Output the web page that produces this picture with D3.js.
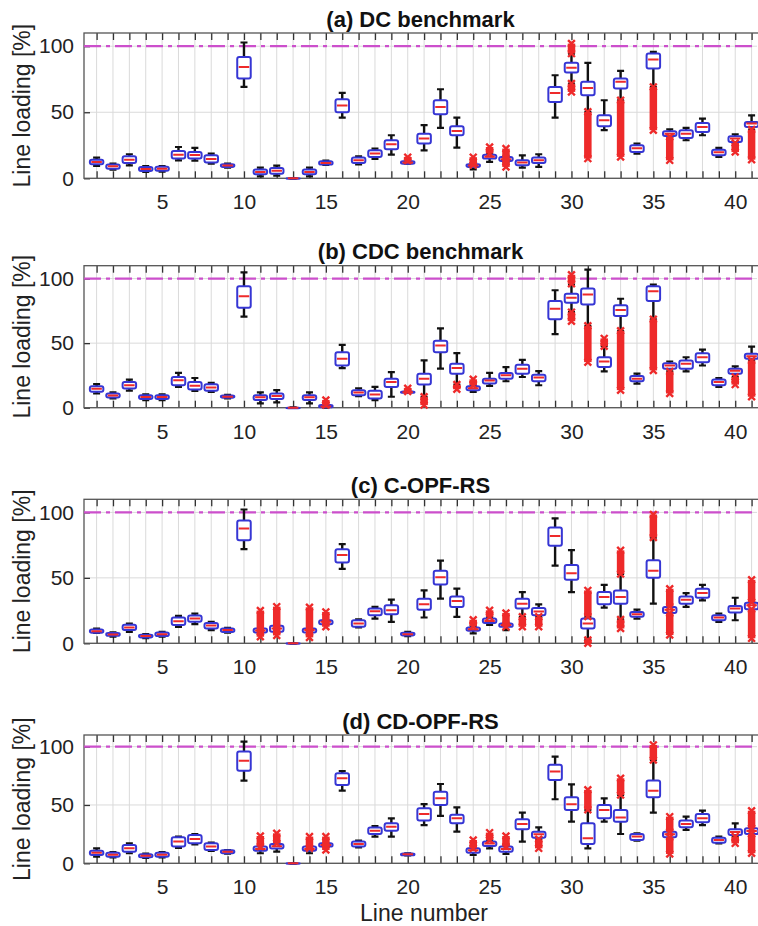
<!DOCTYPE html>
<html><head><meta charset="utf-8">
<script src="https://cdn.jsdelivr.net/npm/d3@7/dist/d3.min.js"></script>
<style>body{margin:0;background:#fff}svg{display:block;font-family:"Liberation Sans",Arial,Helvetica,sans-serif}</style>
</head><body><svg id="c" width="758" height="926"></svg>
<script>
// line numbers
const lines = d3.range(1, 42);
const xTickLabels = [5, 10, 15, 20, 25, 30, 35, 40];
const yTicks = [0, 50, 100];
const limit = 100;
const titles = ["(a) DC benchmark", "(b) CDC benchmark", "(c) C-OPF-RS", "(d) CD-OPF-RS"];

// rows: [whiskerLow, q1, median, q3, whiskerHigh] for lines 1..41
const dcStats = [
[9.3,10.6,12.4,14.1,15.7],[6.6,7.3,9.1,10.4,11.1],[9.8,11.6,14.1,16.7,18.2],[4.8,5.6,7.1,8.6,9.3],[5.0,5.8,7.3,8.8,9.3],
[13.6,14.9,17.9,20.7,23.7],[13.4,14.9,17.7,19.9,23.0],[11.1,11.9,14.6,17.4,18.7],[8.1,8.6,9.6,10.6,11.1],[69.2,75.5,84.3,91.9,102.8],
[1.5,3.0,4.8,6.6,8.1],[2.0,3.5,5.8,7.8,9.6],[0,0,0,0,0],[1.5,3.0,4.8,6.6,8.1],[10.1,10.4,11.6,12.9,13.4],
[46.0,50.0,55.1,59.8,64.6],[10.6,11.6,13.6,15.7,16.7],[14.6,16.2,18.7,21.2,22.5],[17.9,22.0,25.8,28.8,32.6],[11.1,11.1,12.0,12.9,12.9],
[21.2,26.3,30.1,33.8,40.2],[38.1,48.5,54.0,59.1,67.4],[23.2,32.6,35.9,39.4,46.0],[6.8,8.6,9.6,10.6,11.1],[12.4,14.9,16.4,17.9,18.7],
[12.0,13.1,14.4,16.2,17.0],[8.1,9.8,11.9,13.6,17.4],[8.6,11.6,13.6,15.7,18.2],[46.0,57.8,64.6,69.2,78.0],[71.7,80.1,83.6,87.4,94.4],
[50.3,62.9,68.4,73.0,87.4],[36.4,39.4,43.9,47.7,59.1],[59.1,67.9,73.0,75.5,81.3],[18.7,19.9,22.7,25.0,26.3],[69.2,83.1,89.9,94.4,95.7],
[31.3,32.1,33.8,35.6,37.1],[28.8,30.6,33.8,36.4,38.1],[32.6,35.1,38.9,41.9,45.2],[16.2,17.4,19.7,21.7,23.0],[26.8,27.5,30.1,31.8,33.3],
[36.9,38.9,41.4,42.7,47.7]];
// outlier clusters: [line, low, high]
const dcOutliers = [[20,13.5,16],[24,10,16],[25,18.7,23.7],[26,8.6,22.5],[30,94.4,102],[30,65.4,71.7],[31,14.9,50.3],
[33,16.2,59.1],[35,36.4,69.2],[36,13.6,31.3],[40,19.9,26.8],[41,14.1,36.9]];

const cdcStats = [
[11.0,12.3,14.6,16.6,18.2],[7.2,7.9,9.5,11.0,11.8],[13.3,14.9,17.4,20.0,21.8],[5.9,6.7,8.2,9.7,10.4],[5.9,6.7,8.2,9.7,10.4],
[16.1,17.4,21.2,23.8,26.9],[13.1,14.1,17.1,20.0,23.0],[12.3,13.1,15.6,18.2,19.2],[7.2,7.7,8.5,9.5,10.0],[70.6,77.5,86.4,94.1,104.8],
[3.4,5.9,8.0,9.7,11.8],[4.1,6.7,9.0,11.0,13.6],[0,0,0,0,0],[3.4,5.9,8.0,9.7,11.8],[0,0.3,1,2,2],
[30.7,32.7,37.9,42.9,48.6],[9.0,9.7,11.8,13.6,14.9],[5.9,7.2,10.3,13.1,16.1],[8.5,16.1,20.0,22.5,27.6],[11.5,11.5,12.0,12.5,12.5],
[8.5,17.9,22.5,26.3,36.6],[30.2,42.9,48.1,51.9,61.4],[17.9,26.3,30.7,34.0,42.2],[12.3,13.6,15.1,16.6,17.4],[16.9,18.7,21.0,22.5,26.9],
[20.5,22.5,25.1,26.9,31.5],[23.8,26.3,30.2,33.2,37.1],[17.4,20.5,23.3,25.6,28.4],[57.0,68.5,76.7,82.6,91.0],[74.1,81.3,85.1,88.2,95.4],
[63.4,80.0,87.7,92.3,106.9],[28.1,31.5,35.8,39.1,47.6],[59.6,71.1,75.7,79.3,84.4],[18.7,20.5,22.5,24.6,26.4],[68.5,82.6,90.2,94.1,95.4],
[28.1,30.2,32.7,34.5,35.8],[28.1,30.2,34.0,36.6,39.1],[32.7,35.3,39.1,42.2,45.0],[16.1,17.4,20.0,21.8,23.0],[23.8,26.3,28.7,30.2,32.0],
[36.6,37.9,39.9,41.7,47.3]];
const cdcOutliers = [[15,2,6],[20,12.5,15],[21,2,8.5],[23,14.3,17.9],[24,17.4,22],[30,96,103],[30,67,74],[31,35.3,63.4],
[32,47.6,53.7],[33,13.6,59.6],[35,28.9,68.5],[36,11.0,28.1],[40,17.9,23.8],[41,8.5,36.6]];

const copfStats = [
[8.0,8.1,9.3,10.6,11.3],[5.0,5.8,6.8,7.8,8.3],[8.8,10.1,12.1,14.1,15.1],[4.0,4.5,5.5,6.5,7.0],[5.0,5.5,7.0,8.3,8.8],
[12.6,13.9,16.9,19.7,20.9],[14.6,16.4,18.9,21.2,22.7],[10.1,11.3,13.6,15.6,16.4],[8.1,8.6,10.1,11.3,11.8],[72.0,78.8,87.6,93.9,102.2],
[8.3,8.3,9.8,11.3,11.3],[8.8,8.8,11.3,13.4,13.4],[0,0,0,0,0],[8.3,8.3,10.1,11.3,11.3],[14.6,14.6,16.4,17.6,17.6],
[56.8,61.8,67.4,71.9,75.7],[12.1,12.6,15.1,17.6,18.2],[18.9,21.4,24.5,26.5,27.8],[16.4,22.2,25.2,29.0,33.3],[5.5,6.0,7.0,8.1,8.8],
[19.7,25.7,29.8,34.1,40.4],[34.1,44.9,50.5,55.5,63.1],[20.2,27.8,32.3,35.8,41.7],[7.6,9.6,10.8,12.1,13.1],[14.0,15.6,17.1,18.9,20.2],
[10.1,12.6,13.9,15.1,15.8],[20.2,26.5,30.3,34.1,39.1],[20.2,21.4,24.2,27.0,29.8],[59.3,74.5,82.0,88.4,95.4],[39.1,48.5,53.5,59.8,71.1],
[3.0,11.3,15.1,18.9,20.2],[27.3,29.8,35.3,39.1,44.6],[18.2,30.3,35.3,40.4,53.0],[18.9,20.2,22.2,24.0,25.7],[30.3,50.0,55.5,63.4,80.8],
[23.2,23.2,25.7,27.8,27.8],[27.8,30.3,33.3,35.8,38.4],[32.8,34.8,38.4,41.7,44.7],[16.4,17.6,19.7,21.4,22.7],[17.6,23.5,26.5,28.5,34.8],
[26.0,26.0,29.0,31.0,31.5]];
const copfOutliers = [[11,5,25],[12,6,28],[14,4.5,27.5],[15,12.6,24],[24,13,18],[25,20.2,25.2],[26,12.6,23.2],[27,12.6,20.2],
[28,12.6,20.2],[31,20.5,40.4],[31,0,2.5],[33,53,71],[33,11.3,18.2],[35,80.8,98.4],[36,28,41.7],[36,6.3,23],[41,31.5,48.5],[41,3.8,26]];

const cdopfStats = [
[5.7,7.1,9.1,10.8,12.8],[5.1,5.7,7.4,9.1,9.7],[8.6,10.0,12.8,15.7,17.1],[4.6,5.1,6.5,7.7,8.3],[5.1,5.7,7.4,9.1,9.7],
[13.1,14.3,18.6,22.3,22.9],[16.3,17.1,20.8,24.3,25.1],[10.6,11.4,14.3,17.1,17.7],[8.3,8.6,10.0,11.1,11.4],[70.8,79.4,88.0,95.8,104.4],
[8.6,10.8,12.3,14.3,14.8],[10.0,12.6,14.6,16.6,17.7],[0,0,0,0,0],[8.6,10.8,12.3,14.3,14.8],[14.3,14.3,15.7,17.1,17.1],
[62.3,67.1,72.9,77.2,79.1],[13.7,14.3,16.6,18.6,19.4],[22.9,25.1,28.0,30.8,32.0],[22.9,28.0,31.4,34.3,38.6],[6.8,6.8,7.7,8.5,8.5],
[32.8,36.6,42.3,47.1,50.8],[40.6,50.0,55.7,61.4,68.0],[27.1,34.3,38.6,41.7,47.9],[7.1,9.1,11.1,12.8,13.7],[12.8,14.8,16.9,18.6,20.0],
[8.0,10.0,12.3,14.3,15.7],[18.6,29.1,33.7,37.7,43.4],[20.6,22.0,24.9,27.1,30.8],[54.9,71.5,78.6,84.4,91.5],[35.7,45.7,50.6,56.6,67.7],
[12.8,16.6,21.4,34.3,45.7],[35.7,38.6,45.7,50.0,55.7],[25.1,35.7,39.2,45.7,58.6],[19.4,20.0,22.9,25.1,25.7],[43.4,56.6,62.3,70.9,88.6],
[22.3,22.3,24.9,27.1,27.1],[28.6,30.9,33.7,36.6,40.0],[32.8,35.2,38.6,42.3,45.1],[17.1,17.7,20.0,22.0,22.9],[22.9,24.3,26.9,29.1,34.3],
[25.1,25.1,27.7,30.0,30.0]];
const cdopfOutliers = [[11,14.3,23.4],[12,17.1,25.7],[14,13,22.9],[15,11.4,22.9],[24,12.8,20],[25,20,26.3],[26,14.3,23.4],
[28,12.8,20.6],[31,46,63],[33,58.6,72.9],[35,88.6,101.5],[36,27.1,40],[36,8,22.3],[40,17.1,22.9],[41,30,45.1],[41,8.6,25.1]];

const statsAll = [dcStats, cdcStats, copfStats, cdopfStats];
const outAll = [dcOutliers, cdcOutliers, copfOutliers, cdopfOutliers];

// layout
const L = 84, R = 757;
const frames = [[33, 178.3], [265.7, 407.7], [499.3, 643.3], [735, 863.3]];
const BOXW = 13.5, CAPW = 7, OUTW = 7.5;
const BLUE = "#3636d4", RED = "#ee2a2a", MAG = "#cc4fcc";

const svg = d3.select("#c");
const x = d3.scaleLinear().domain([0.23, 41.33]).range([L, R]);

statsAll.forEach((stats, pi) => {
  const [top, bot] = frames[pi];
  const y = d3.scaleLinear().domain([0, 110]).range([bot, top]);
  const g = svg.append("g");
  const defsId = "clip" + pi;
  svg.append("clipPath").attr("id", defsId).append("rect")
    .attr("x", L).attr("y", top - 6).attr("width", R - L + 4).attr("height", bot - top + 12);

  // grid
  g.append("g").selectAll("line").data(lines).join("line")
    .attr("x1", d => x(d)).attr("x2", d => x(d)).attr("y1", top).attr("y2", bot)
    .attr("stroke", "#dadada").attr("stroke-width", 1);
  g.append("g").selectAll("line").data(yTicks).join("line")
    .attr("x1", L).attr("x2", R).attr("y1", d => y(d)).attr("y2", d => y(d))
    .attr("stroke", "#dadada").attr("stroke-width", 1);

  // axes
  const ax = g.append("g").attr("transform", `translate(0,${bot})`)
    .call(d3.axisBottom(x).tickValues(lines).tickSize(-7).tickPadding(16)
      .tickFormat(d => xTickLabels.includes(d) ? d : ""));
  const at = g.append("g").attr("transform", `translate(0,${top})`)
    .call(d3.axisTop(x).tickValues(lines).tickSize(-7).tickFormat(""));
  const ay = g.append("g").attr("transform", `translate(${L},0)`)
    .call(d3.axisLeft(y).tickValues(yTicks).tickSize(-6).tickPadding(10));
  [ax, at, ay].forEach(a => {
    a.select(".domain").remove();
    a.selectAll(".tick line").attr("stroke", "#333").attr("stroke-width", 1.3);
    a.selectAll("text").attr("fill", "#222").attr("font-size", 21);
  });
  g.append("rect").attr("x", L).attr("y", top).attr("width", R - L + 6).attr("height", bot - top)
    .attr("fill", "none").attr("stroke", "#555").attr("stroke-width", 1.3);

  // limit line
  g.append("line").attr("x1", L).attr("x2", R).attr("y1", y(limit)).attr("y2", y(limit))
    .attr("stroke", MAG).attr("stroke-width", 2.2).attr("stroke-dasharray", "17,5,4,5");

  const pg = g.append("g").attr("clip-path", `url(#${defsId})`);
  const rows = stats.map((s, i) => ({line: lines[i], lo: s[0], q1: s[1], med: s[2], q3: s[3], hi: s[4]}));

  // whiskers
  pg.append("g").selectAll("line").data(rows).join("line")
    .attr("x1", d => x(d.line)).attr("x2", d => x(d.line))
    .attr("y1", d => y(d.hi)).attr("y2", d => y(d.lo))
    .attr("stroke", "#111").attr("stroke-width", 2.4);
  pg.append("g").selectAll("line").data(rows.flatMap(d => [[d.line, d.lo], [d.line, d.hi]])).join("line")
    .attr("x1", d => x(d[0]) - CAPW / 2).attr("x2", d => x(d[0]) + CAPW / 2)
    .attr("y1", d => y(d[1])).attr("y2", d => y(d[1]))
    .attr("stroke", "#111").attr("stroke-width", 2.2);

  // boxes
  pg.append("g").selectAll("rect").data(rows).join("rect")
    .attr("x", d => x(d.line) - BOXW / 2).attr("width", BOXW)
    .attr("y", d => y(d.q3)).attr("height", d => Math.max(y(d.q1) - y(d.q3), 0.5))
    .attr("rx", 2).attr("fill", "#fff").attr("stroke", BLUE).attr("stroke-width", 2);
  pg.append("g").selectAll("line").data(rows).join("line")
    .attr("x1", d => x(d.line) - BOXW / 2 + 1.5).attr("x2", d => x(d.line) + BOXW / 2 - 1.5)
    .attr("y1", d => y(d.med)).attr("y2", d => y(d.med))
    .attr("stroke", RED).attr("stroke-width", 2);

  // outlier clusters
  const outs = outAll[pi];
  pg.append("g").selectAll("rect").data(outs).join("rect")
    .attr("x", d => x(d[0]) - OUTW / 2).attr("width", OUTW)
    .attr("y", d => y(d[2])).attr("height", d => y(d[1]) - y(d[2]))
    .attr("fill", RED);
  pg.append("g").selectAll("path").data(outs.flatMap(d => [[d[0], d[1]], [d[0], d[2]]])).join("path")
    .attr("d", d => {
      const cx = x(d[0]), cy = y(d[1]), r = 3.4;
      return `M${cx - r},${cy - r}L${cx + r},${cy + r}M${cx - r},${cy + r}L${cx + r},${cy - r}`;
    })
    .attr("stroke", RED).attr("stroke-width", 2.4).attr("fill", "none");

  // title
  svg.append("text").attr("x", (L + R) / 2).attr("y", top - 6.5).attr("text-anchor", "middle")
    .attr("font-size", 22).attr("font-weight", "bold").attr("fill", "#111").text(titles[pi]);
  // y label
  svg.append("text").attr("transform", `translate(22,${(top + bot) / 2}) rotate(-90)`)
    .attr("text-anchor", "middle").attr("dominant-baseline", "central")
    .attr("font-size", 23).attr("fill", "#222").text("Line loading [%]");
});

svg.append("text").attr("x", 424).attr("y", 921).attr("text-anchor", "middle")
  .attr("font-size", 23).attr("fill", "#222").text("Line number");
</script></body></html>
